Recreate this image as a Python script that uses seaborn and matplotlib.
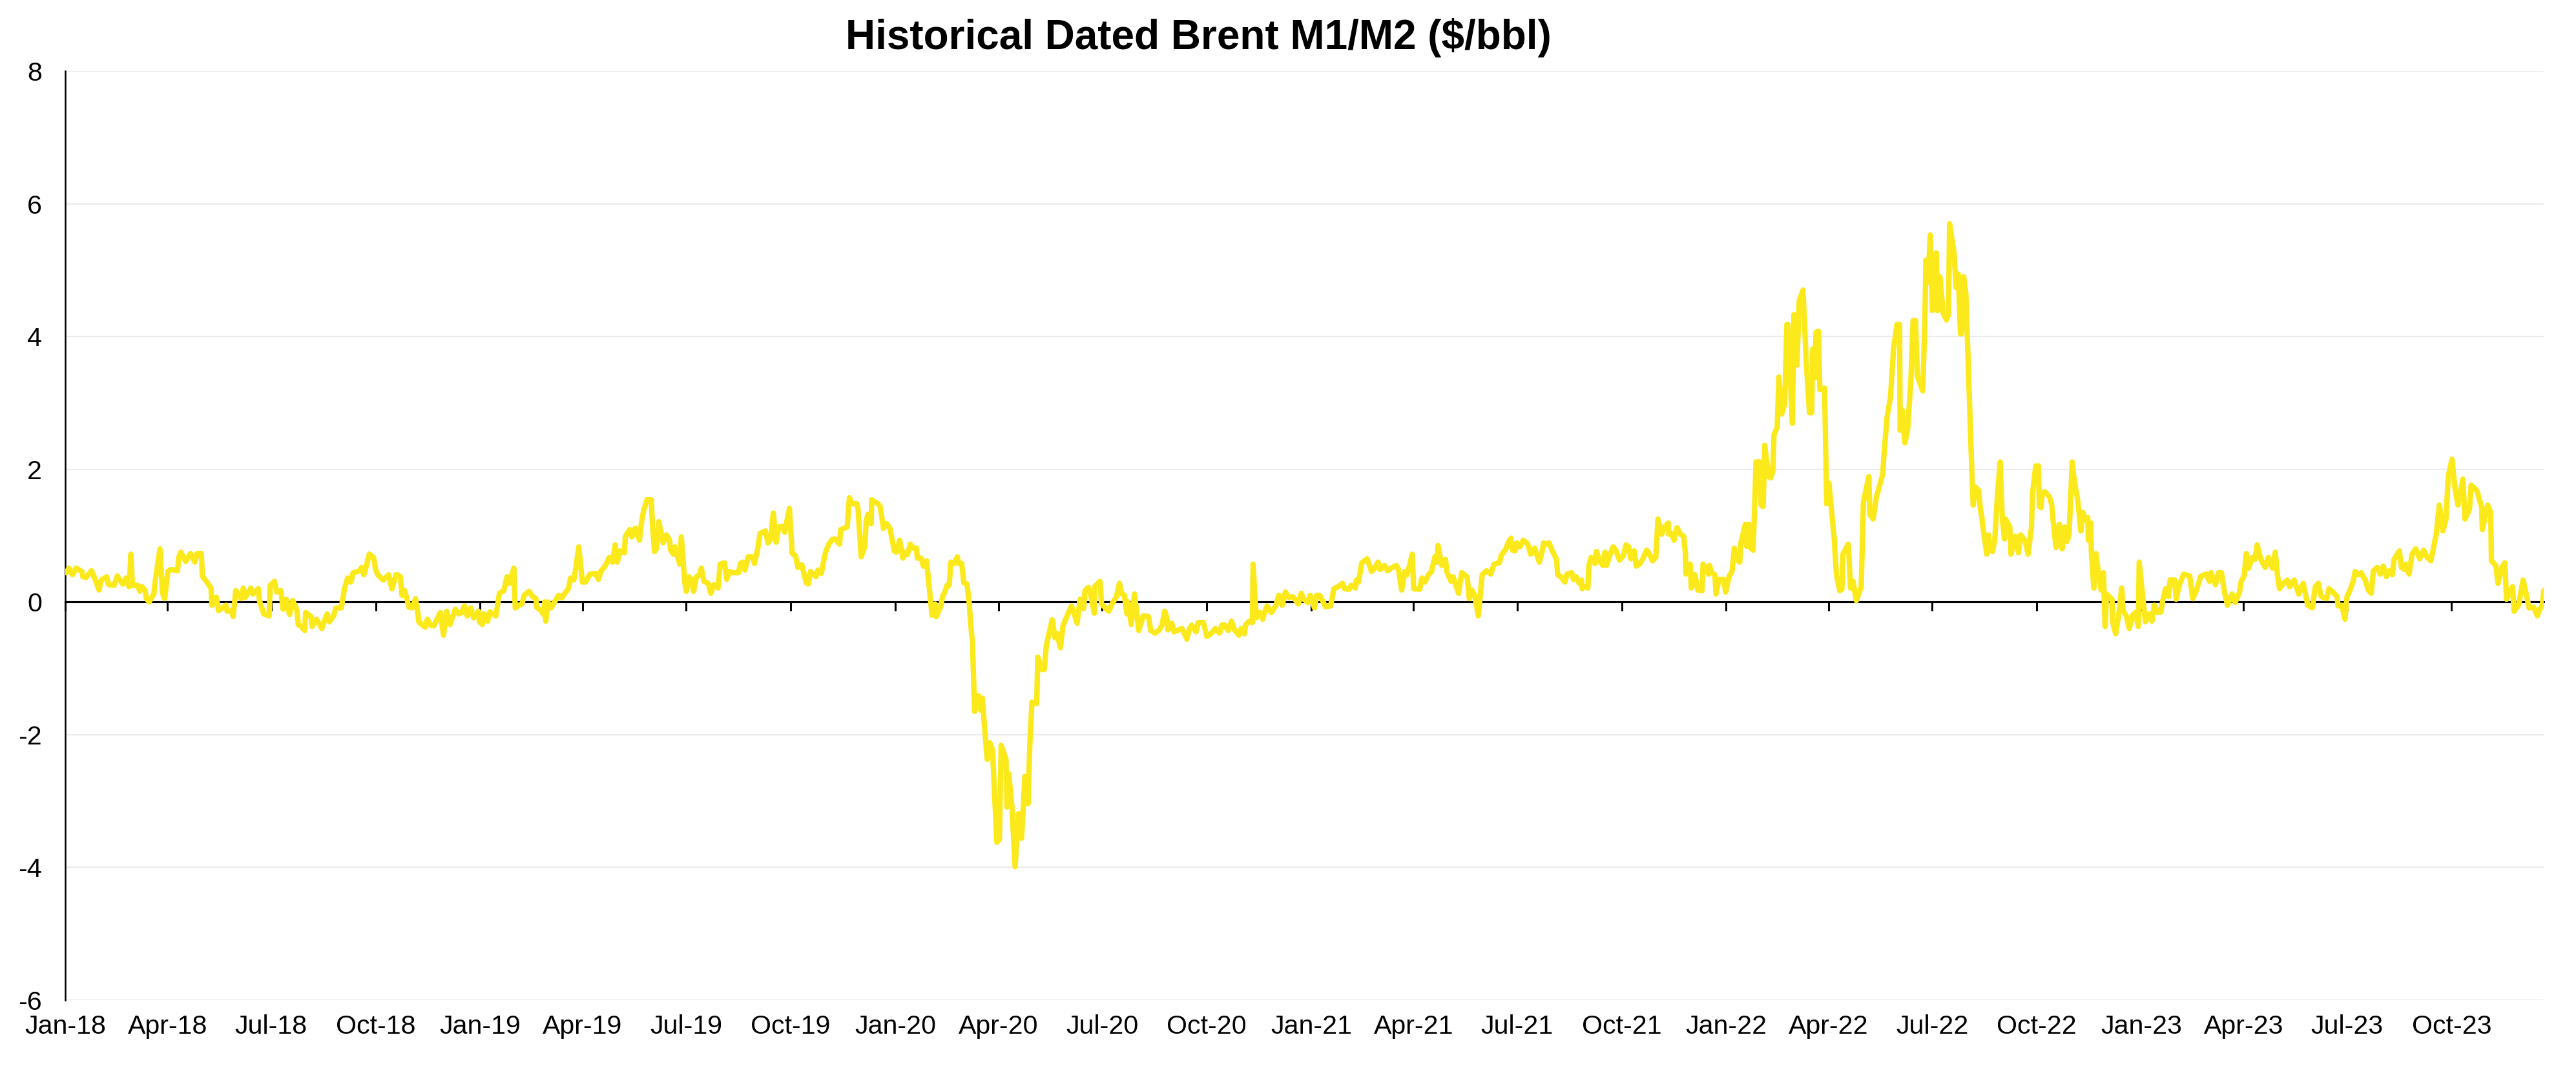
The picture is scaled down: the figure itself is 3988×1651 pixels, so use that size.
import matplotlib
matplotlib.use("Agg")
import matplotlib.pyplot as plt
import matplotlib.dates as mdates
import pandas as pd
import seaborn as sns

# ---------------- data ----------------
BASE_DATE = "2018-01-01"          # x values below are days after this date
TITLE = "Historical Dated Brent M1/M2 ($/bbl)"
Y_TICKS = [-6, -4, -2, 0, 2, 4, 6, 8]
TICK_MONTHS = (1, 4, 7, 10)       # quarterly tick labels: Jan-18, Apr-18, ...
LINE_COLOR = "#FCE91C"

obs_day = [
    # 2018
    1, 3.2, 6.4, 9.5, 14.6, 15.5, 18.4, 23.1, 25.9, 29.7,
    31.6, 36.4, 38.3, 43.0, 45.8, 50.6, 53.4, 56.2, 57.8, 59.1,
    63.8, 65.7, 67.6, 70.4, 71.4, 73.8, 78.0, 79.0, 83.3, 85.6,
    87.5, 90.3, 93.2, 98.8, 99.8, 101.7, 106.0, 110.2, 114.0, 115.9,
    119.7, 120.6, 125.4, 128.2, 129.1, 132.9, 134.8, 141.5, 142.4, 146.2,
    147.7, 150.0, 154.7, 156.6, 158.5, 163.2, 165.1, 169.9, 170.8, 174.6,
    179.3, 180.3, 184.1, 185.9, 189.7, 191.6, 194.5, 197.3, 200.2, 203.9,
    204.9, 207.7, 210.6, 211.5, 216.2, 217.2, 221.0, 225.7, 227.6, 230.4,
    232.3, 236.1, 238.0, 242.8, 245.6, 248.4, 251.3, 253.2, 258.9, 260.8,
    262.6, 264.5, 267.4, 271.2, 273.0, 274.9, 279.7, 284.4, 287.3, 291.0,
    292.0, 294.8, 296.2, 298.6, 302.4, 305.2, 308.1, 310.0, 311.0, 316.6,
    318.5, 321.3, 324.2, 329.9, 332.7, 335.5, 338.4, 343.1, 346.0, 348.8,
    351.1, 353.5, 356.8, 359.2, 363.6, 364.3,
    # 2019
    366.8, 368.3, 371.5, 373.4,
    378.7, 380.0, 381.9, 385.7, 388.6, 390.9, 394.6, 395.8, 399.0, 401.8,
    403.7, 407.9, 411.3, 414.1, 414.7, 418.5, 420.8, 421.7, 422.7, 424.6,
    427.4, 430.3, 434.1, 436.9, 439.4, 442.6, 444.5, 447.3, 449.2, 451.7,
    454.9, 457.8, 461.5, 466.3, 469.1, 471.0, 474.8, 478.6, 481.4, 483.7,
    485.6, 488.1, 491.8, 492.7, 496.5, 498.4, 501.3, 505.1, 507.0, 508.8,
    511.7, 515.5, 516.4, 518.3, 520.2, 522.1, 525.9, 528.7, 531.6, 532.5,
    535.0, 536.3, 540.5, 541.9, 544.8, 546.3, 548.6, 550.4, 552.7, 555.2,
    558.0, 559.5, 561.8, 565.6, 567.9, 570.4, 574.2, 576.1, 579.9, 581.8,
    584.3, 586.6,
    592.1, 594.0, 595.9, 597.8, 600.7, 604.4, 606.3, 609.2, 611.1, 615.8,
    618.1, 620.5, 622.8, 625.3, 627.5, 630.9, 632.8, 637.0, 639.4, 642.3,
    644.5, 647.9, 651.7, 653.6, 655.5, 660.3, 662.1, 665.0, 666.9, 668.8,
    671.6, 674.5, 676.4, 678.3, 681.1, 682.1, 687.8, 689.7, 692.5, 696.3,
    697.2, 700.1, 703.3, 704.5, 706.0, 708.9, 709.3, 712.7, 714.9, 716.8,
    719.7, 722.5, 725.4, 729.2,
    # 2020
    731.1, 733.9, 736.8, 737.7, 740.6, 743.4,
    746.2, 748.7, 749.5, 752.9, 754.8, 757.6, 759.5, 762.4, 765.2, 766.2,
    770.0, 771.8, 773.7, 775.6, 777.5, 779.0, 781.8, 784.7, 785.6, 788.5,
    790.4, 793.2, 795.1, 796.0, 798.0, 799.9, 803.3, 805.2, 806.7, 808.0,
    810.9, 813.2, 815.6, 819.4, 821.7, 823.2, 827.5, 828.3, 829.9, 832.7,
    835.5, 838.4, 841.2, 844.1, 846.9, 848.4, 850.3, 854.5, 855.4, 859.2,
    861.1, 863.0, 865.8, 868.1, 870.6, 872.5, 875.3, 877.6, 881.0,
    885.0, 887.5, 890.0, 892.6, 895.7, 897.0, 899.9, 901.8, 905.1, 905.5,
    910.2, 911.5, 914.9, 917.8, 921.6, 924.4, 927.3, 929.1, 931.6, 933.9,
    934.8, 937.7, 940.5, 944.3, 948.1, 952.8, 954.8, 958.5, 962.3, 964.6,
    967.1, 969.0, 969.9, 973.3, 975.2, 979.4, 982.2, 986.6, 988.9, 990.8,
    994.6, 996.5, 1001.2, 1004.1, 1007.8, 1011.6, 1015.4, 1017.3, 1019.2, 1023.0,
    1025.8, 1028.7, 1032.5, 1034.3, 1037.2, 1038.1, 1041.5, 1044.2, 1044.8, 1047.6,
    1050.5, 1053.3, 1055.2, 1057.1, 1060.9, 1064.7, 1067.5, 1070.4, 1073.2, 1076.1,
    1079.9, 1084.6, 1087.1, 1089.4, 1093.1, 1095.0,
    # 2021
    1098.8, 1100.7, 1103.5, 1107.3,
    1108.3, 1113.0, 1115.9, 1119.6, 1123.4, 1125.3, 1129.1, 1131.0, 1134.7, 1135.7,
    1137.6, 1140.4, 1145.2, 1149.0, 1151.8, 1154.7, 1156.6, 1160.4, 1163.2, 1166.1,
    1170.8, 1172.7, 1175.5, 1178.4,
    1180.1, 1182.4, 1184.8, 1186.1, 1191.4, 1193.3, 1196.1, 1199.0, 1201.8, 1204.7,
    1206.6, 1207.5, 1210.7, 1214.1, 1215.1, 1218.9, 1220.7, 1225.5, 1228.3, 1233.1,
    1235.0, 1237.2, 1239.7, 1242.9, 1246.3, 1250.1, 1253.9, 1256.7, 1261.5, 1263.0,
    1267.2, 1269.1, 1271.6, 1272.9, 1275.3, 1276.6, 1279.5, 1282.4, 1286.2, 1289.0,
    1292.4, 1296.6, 1298.9, 1300.4, 1302.3, 1305.1, 1308.0, 1311.8, 1312.7, 1315.6,
    1319.0, 1320.9, 1325.0, 1326.6, 1328.8, 1331.7, 1333.6, 1334.2, 1336.4, 1339.3,
    1340.2, 1342.1, 1345.5, 1346.9, 1350.1, 1352.5, 1354.4, 1355.8, 1358.2, 1361.4,
    1363.9, 1367.1, 1370.5, 1372.8, 1375.3, 1377.1, 1380.0, 1381.9, 1384.7, 1387.6,
    1391.0, 1393.3, 1396.1, 1399.0, 1400.9, 1404.3, 1406.2, 1410.0, 1410.4, 1412.7,
    1415.1, 1417.6, 1420.8, 1423.6, 1425.1, 1425.5, 1429.3, 1430.2, 1433.5, 1435.9,
    1439.7, 1440.6, 1443.5, 1445.4, 1446.3, 1448.2, 1451.0, 1452.0, 1454.5, 1458.7,
    1460.5,
    # 2022
    1463.4, 1466.2, 1468.1, 1470.0, 1472.9, 1473.8,
    1477.7, 1478.9, 1480.8, 1482.1, 1484.6, 1485.9, 1487.2, 1490.3, 1491.6, 1493.5,
    1494.8, 1498.2, 1500.1, 1502.0, 1503.0, 1505.8, 1507.3, 1509.6, 1512.4, 1514.3,
    1515.3, 1519.1, 1520.6, 1523.2, 1525.1, 1528.5, 1531.4, 1534.2, 1536.1, 1537.1,
    1538.9, 1539.9, 1542.1, 1543.3, 1547.5, 1549.3, 1551.3, 1556.0, 1557.9, 1560.8,
    1562.7, 1563.6, 1568.4, 1570.3, 1572.5, 1575.4, 1579.7, 1581.6, 1586.4, 1587.3,
    1590.2, 1593.0, 1594.9, 1598.7, 1599.7, 1602.5, 1605.4, 1608.2, 1611.1, 1613.5,
    1613.9, 1615.8, 1618.1, 1620.5, 1623.4, 1625.3, 1627.5, 1629.0, 1633.8, 1635.7,
    1636.6, 1638.5, 1640.4, 1642.3, 1645.7, 1647.0, 1648.9, 1651.8, 1654.6, 1656.5,
    1657.4, 1661.3, 1663.2, 1665.1, 1667.0, 1667.9, 1669.8, 1671.7, 1673.8, 1676.3,
    1677.3, 1678.2, 1680.1, 1683.0, 1684.5, 1685.8, 1687.7, 1690.2, 1691.5, 1693.4,
    1695.3, 1697.2, 1699.6, 1701.9, 1703.8, 1705.7, 1706.6, 1710.4, 1711.4, 1715.2,
    1718.0, 1719.9, 1723.7, 1726.5, 1729.4, 1730.3, 1733.2, 1735.6, 1736.4, 1737.9,
    1738.8, 1741.3, 1745.4, 1747.3, 1748.3, 1751.1, 1754.0, 1756.4, 1758.7, 1760.6,
    1762.5, 1765.3, 1767.2, 1770.1,
    1772.9, 1774.7, 1776.9, 1779.0, 1779.5, 1781.6, 1782.2, 1784.3, 1786.2, 1788.8,
    1790.7, 1792.8, 1794.2, 1795.5, 1800.3, 1800.8, 1803.5, 1806.1, 1808.8, 1810.1,
    1812.8, 1815.5, 1818.1, 1820.8, 1823.4, 1824.2,
    # 2023
    1829.6, 1832.8, 1835.4, 1837.5,
    1840.7, 1843.4, 1844.7, 1847.4, 1850.0, 1851.4, 1855.4, 1856.7, 1859.4, 1863.4,
    1868.7, 1871.3, 1874.0, 1878.5, 1883.3, 1886.0, 1887.3, 1891.3, 1893.9, 1896.6,
    1899.2, 1901.9, 1905.9, 1908.6, 1912.5, 1913.9, 1916.5, 1918.4, 1920.5, 1923.7,
    1925.8, 1928.0, 1931.2, 1935.1, 1937.8, 1941.3, 1943.9, 1945.8, 1947.7, 1951.1,
    1954.6, 1956.5, 1960.5, 1964.5, 1968.5, 1972.5, 1976.5, 1979.1, 1981.8, 1984.4,
    1989.2, 1991.1, 1994.5, 1998.3, 1999.1, 2002.5, 2005.2, 2007.0, 2009.7, 2012.4,
    2014.2, 2016.9, 2019.5, 2023.0, 2025.7, 2028.3, 2030.2, 2033.6, 2036.3, 2038.9,
    2041.6, 2044.3, 2046.9, 2048.3, 2053.1, 2054.9, 2057.6, 2058.9, 2061.6, 2064.2,
    2067.4, 2070.9, 2074.4, 2077.6, 2080.7, 2082.9, 2085.5, 2088.2, 2091.4, 2094.0,
    2096.1, 2099.3, 2102.0, 2104.6, 2108.9, 2110.8, 2114.8, 2116.1, 2118.8, 2121.4,
    2125.4, 2126.0, 2130.7, 2133.4, 2134.0, 2137.9, 2139.8, 2143.3, 2145.9, 2147.3,
    2152.6, 2153.9, 2157.9, 2161.9, 2164.6, 2167.2, 2171.2, 2174.4, 2176.5, 2178.8,
    2180.0,
]

m1m2_spread = [
    # 2018
    0.44, 0.51, 0.41, 0.51, 0.46, 0.38, 0.37, 0.47, 0.36, 0.18,
    0.33, 0.38, 0.26, 0.25, 0.39, 0.27, 0.36, 0.23, 0.72, 0.25,
    0.25, 0.16, 0.23, 0.17, 0.05, 0.00, 0.12, 0.30, 0.80, 0.13,
    0.05, 0.46, 0.49, 0.47, 0.67, 0.75, 0.61, 0.73, 0.60, 0.73,
    0.73, 0.39, 0.28, 0.21, -0.05, 0.07, -0.13, -0.05, -0.14, -0.13,
    -0.22, 0.17, 0.05, 0.21, 0.07, 0.21, 0.12, 0.20, 0.02, -0.18,
    -0.21, 0.25, 0.31, 0.15, 0.17, -0.11, 0.04, -0.19, 0.02, -0.13,
    -0.34, -0.37, -0.43, -0.16, -0.22, -0.37, -0.26, -0.40, -0.30, -0.18,
    -0.30, -0.21, -0.09, -0.09, 0.20, 0.36, 0.30, 0.44, 0.47, 0.52,
    0.41, 0.52, 0.72, 0.67, 0.49, 0.41, 0.33, 0.41, 0.20, 0.41,
    0.41, 0.38, 0.10, 0.17, -0.08, -0.09, 0.05, -0.14, -0.30, -0.38,
    -0.26, -0.35, -0.36, -0.16, -0.50, -0.14, -0.34, -0.11, -0.18, -0.16,
    -0.06, -0.21, -0.09, -0.24, -0.14, -0.30,
    # 2019
    -0.34, -0.18, -0.29, -0.15,
    -0.21, -0.08, 0.13, 0.17, 0.38, 0.28, 0.51, -0.09, -0.05, -0.03,
    0.10, 0.16, 0.08, 0.05, -0.08, -0.13, -0.19, 0.00, -0.29, 0.00,
    -0.09, 0.00, 0.10, 0.06, 0.13, 0.20, 0.36, 0.33, 0.52, 0.83,
    0.30, 0.30, 0.42, 0.43, 0.34, 0.46, 0.54, 0.67, 0.60, 0.86,
    0.60, 0.77, 0.74, 0.99, 1.09, 0.98, 1.11, 0.93, 1.22, 1.38,
    1.54, 1.54, 1.19, 0.76, 0.81, 1.21, 0.89, 1.01, 0.93, 0.78,
    0.72, 0.83, 0.57, 0.98, 0.31, 0.16, 0.38, 0.35, 0.16, 0.38,
    0.41, 0.51, 0.31, 0.28, 0.13, 0.26, 0.21, 0.57, 0.59, 0.34,
    0.46, 0.44,
    0.44, 0.58, 0.60, 0.48, 0.68, 0.68, 0.58, 0.81, 1.03, 1.07,
    0.89, 0.95, 1.34, 0.90, 1.13, 1.14, 1.05, 1.41, 0.73, 0.70,
    0.52, 0.56, 0.29, 0.27, 0.46, 0.38, 0.48, 0.43, 0.60, 0.75,
    0.87, 0.94, 0.95, 0.93, 0.87, 1.09, 1.13, 1.57, 1.48, 1.48,
    1.42, 0.68, 0.83, 1.22, 1.32, 1.18, 1.54, 1.50, 1.48, 1.44,
    1.11, 1.18, 1.11, 0.77,
    # 2020
    0.75, 0.93, 0.66, 0.75, 0.71, 0.87,
    0.81, 0.81, 0.66, 0.66, 0.54, 0.62, 0.30, -0.20, -0.03, -0.22,
    -0.07, 0.09, 0.15, 0.25, 0.25, 0.60, 0.58, 0.68, 0.58, 0.58,
    0.29, 0.27, -0.01, -0.24, -0.63, -1.65, -1.41, -1.63, -1.45, -1.75,
    -2.37, -2.12, -2.23, -3.62, -3.58, -2.16, -2.37, -3.09, -2.59, -3.09,
    -3.99, -3.19, -3.56, -2.63, -3.04, -2.16, -1.51, -1.53, -0.83, -1.02,
    -1.02, -0.65, -0.44, -0.27, -0.54, -0.48, -0.69, -0.36, -0.22,
    -0.06, -0.18, -0.32, 0.04, -0.10, 0.17, 0.22, 0.12, -0.17, 0.23,
    0.31, -0.03, -0.09, -0.14, 0.00, 0.07, 0.28, 0.13, 0.10, -0.18,
    0.00, -0.34, 0.12, -0.43, -0.21, -0.22, -0.43, -0.47, -0.42, -0.35,
    -0.14, -0.24, -0.42, -0.32, -0.45, -0.42, -0.40, -0.56, -0.40, -0.35,
    -0.45, -0.31, -0.31, -0.52, -0.48, -0.40, -0.47, -0.35, -0.34, -0.43,
    -0.29, -0.43, -0.50, -0.40, -0.48, -0.35, -0.29, -0.31, 0.57, -0.24,
    -0.16, -0.26, -0.14, -0.06, -0.16, -0.06, 0.10, -0.05, 0.15, 0.07,
    0.08, -0.03, 0.13, 0.04, -0.01, 0.10,
    # 2021
    -0.09, 0.10, 0.10, -0.03,
    -0.07, -0.06, 0.20, 0.23, 0.28, 0.20, 0.19, 0.25, 0.21, 0.33,
    0.30, 0.59, 0.65, 0.46, 0.51, 0.60, 0.49, 0.55, 0.47, 0.51,
    0.55, 0.49, 0.18, 0.46,
    0.41, 0.55, 0.72, 0.20, 0.19, 0.36, 0.30, 0.41, 0.46, 0.68,
    0.60, 0.85, 0.55, 0.64, 0.46, 0.31, 0.38, 0.13, 0.44, 0.38,
    0.05, 0.18, 0.10, -0.21, 0.41, 0.47, 0.42, 0.57, 0.59, 0.70,
    0.80, 0.89, 0.96, 0.78, 0.77, 0.89, 0.83, 0.93, 0.88, 0.72,
    0.81, 0.60, 0.75, 0.89, 0.87, 0.89, 0.77, 0.64, 0.41, 0.38,
    0.30, 0.42, 0.44, 0.34, 0.38, 0.28, 0.33, 0.20, 0.23, 0.21,
    0.55, 0.67, 0.58, 0.76, 0.60, 0.55, 0.75, 0.55, 0.68, 0.83,
    0.78, 0.63, 0.70, 0.86, 0.83, 0.65, 0.77, 0.54, 0.57, 0.65,
    0.78, 0.73, 0.62, 0.67, 1.25, 1.02, 1.12, 1.19, 1.02, 1.03,
    0.93, 1.12, 1.02, 0.99, 0.73, 0.42, 0.57, 0.21, 0.41, 0.18,
    0.17, 0.57, 0.49, 0.42, 0.55, 0.44, 0.41, 0.12, 0.34, 0.34,
    0.15,
    # 2022
    0.38, 0.47, 0.81, 0.64, 0.60, 0.88,
    1.17, 0.84, 1.17, 0.82, 0.78, 1.40, 2.11, 2.11, 1.46, 1.44,
    2.36, 1.89, 1.87, 1.97, 2.52, 2.63, 3.39, 2.83, 2.98, 4.18,
    4.18, 2.69, 4.33, 3.57, 4.53, 4.70, 3.61, 2.85, 2.85, 3.81,
    3.38, 4.06, 4.08, 3.20, 3.22, 1.48, 1.79, 0.95, 0.41, 0.17,
    0.19, 0.72, 0.87, 0.21, 0.31, 0.02, 0.23, 1.50, 1.89, 1.32,
    1.25, 1.58, 1.69, 1.93, 2.22, 2.79, 3.08, 3.82, 4.18, 4.18,
    2.59, 2.89, 2.40, 2.59, 3.34, 4.24, 4.24, 3.41, 3.18, 4.24,
    5.15, 4.82, 5.53, 4.39, 5.26, 4.39, 4.90, 4.35, 4.25, 4.33,
    5.70, 5.27, 4.74, 4.94, 4.04, 4.04, 4.90, 4.66, 3.61, 2.32,
    1.81, 1.46, 1.73, 1.68, 1.40, 1.28, 1.01, 0.72, 1.01, 0.78,
    0.76, 0.95, 1.62, 2.11, 1.26, 0.95, 1.25, 1.13, 0.72, 0.99,
    0.74, 1.01, 0.93, 0.72, 1.11, 1.62, 2.05, 2.05, 1.44, 1.42,
    1.64, 1.66, 1.58, 1.46, 1.26, 0.82, 1.17, 0.80, 1.13, 0.91,
    1.01, 2.11, 1.81, 1.54,
    1.07, 1.35, 1.24, 1.27, 0.93, 1.19, 0.73, 0.21, 0.73, 0.38,
    0.18, 0.44, -0.37, 0.12, 0.04, -0.30, -0.48, -0.21, 0.21, -0.13,
    -0.21, -0.40, -0.21, -0.16, -0.37, 0.60,
    # 2023
    -0.30, -0.18, -0.29, -0.05,
    -0.16, -0.15, 0.00, 0.20, 0.08, 0.33, 0.33, 0.04, 0.25, 0.42,
    0.39, 0.05, 0.15, 0.39, 0.42, 0.31, 0.44, 0.26, 0.44, 0.44,
    0.15, -0.05, 0.12, -0.01, 0.15, 0.31, 0.39, 0.73, 0.51, 0.67,
    0.64, 0.86, 0.64, 0.52, 0.67, 0.51, 0.75, 0.41, 0.20, 0.28,
    0.33, 0.23, 0.33, 0.12, 0.28, -0.05, -0.09, 0.23, 0.28, 0.08,
    0.05, 0.20, 0.15, 0.08, -0.06, -0.05, -0.26, 0.08, 0.18, 0.31,
    0.46, 0.41, 0.44, 0.33, 0.18, 0.13, 0.47, 0.52, 0.42, 0.54,
    0.38, 0.47, 0.41, 0.64, 0.77, 0.52, 0.49, 0.57, 0.42, 0.72,
    0.80, 0.65, 0.78, 0.67, 0.62, 0.80, 1.02, 1.46, 1.07, 1.24,
    1.90, 2.15, 1.71, 1.46, 1.85, 1.25, 1.40, 1.76, 1.72, 1.67,
    1.43, 1.09, 1.46, 1.35, 0.62, 0.55, 0.28, 0.52, 0.59, 0.04,
    0.23, -0.14, -0.05, 0.33, 0.12, -0.09, -0.08, -0.21, -0.11, -0.06,
    0.17,
]

assert len(obs_day) == len(m1m2_spread), (len(obs_day), len(m1m2_spread))

# ---------------- figure ----------------
sns.set_theme(style="white")
plt.rcParams["font.family"] = ["Liberation Sans", "DejaVu Sans"]
plt.rcParams["axes.unicode_minus"] = False

df = pd.DataFrame({
    "date": pd.Timestamp(BASE_DATE) + pd.to_timedelta(obs_day, unit="D"),
    "spread": m1m2_spread,
})

W, H, DPI = 3988, 1651, 200
fig = plt.figure(figsize=(W / DPI, H / DPI), dpi=DPI)
ax = fig.add_axes([101 / W, 1 - 1549 / H, (3938 - 101) / W, (1549 - 110) / H])

sns.lineplot(data=df, x="date", y="spread", estimator=None, sort=False,
             color=LINE_COLOR, linewidth=3.0, ax=ax, zorder=4,
             solid_joinstyle="round", solid_capstyle="round")

ax.set_ylim(Y_TICKS[0], Y_TICKS[-1])
ax.set_yticks(Y_TICKS)
ax.set_xlim(pd.Timestamp(BASE_DATE), df["date"].max())
ax.set_xlabel("")
ax.set_ylabel("")

ax.grid(axis="y", color="#EBEBEB", linewidth=0.75)
ax.grid(axis="x", visible=False)
ax.set_axisbelow(True)
for side in ("top", "right", "bottom"):
    ax.spines[side].set_visible(False)
ax.spines["left"].set_color("black")
ax.spines["left"].set_linewidth(0.9)

ax.xaxis.set_major_locator(mdates.MonthLocator(bymonth=TICK_MONTHS))
ax.xaxis.set_major_formatter(mdates.DateFormatter("%b-%y"))
ax.tick_params(axis="x", length=0, pad=8, labelsize=14.8, labelcolor="black")
ax.tick_params(axis="y", length=0, pad=13, labelsize=14.8, labelcolor="black")

# horizontal axis line crossing at y = 0, with its tick marks
ax.axhline(0, color="black", linewidth=1.1, zorder=3)
zero_frac = (0 - Y_TICKS[0]) / (Y_TICKS[-1] - Y_TICKS[0])
sec = ax.secondary_xaxis(zero_frac)
sec.set_zorder(3)
sec.xaxis.set_major_locator(mdates.MonthLocator(bymonth=TICK_MONTHS))
sec.tick_params(axis="x", direction="out", length=5.0, width=1.1, color="black",
                labelbottom=False, labeltop=False)
for sp in sec.spines.values():
    sp.set_color("black")
    sp.set_linewidth(1.1)

fig.text(1855 / W, 1 - 76 / H, TITLE, ha="center", va="baseline",
         fontsize=23, fontweight="bold", color="black")

fig.savefig("out.png", dpi=DPI)
